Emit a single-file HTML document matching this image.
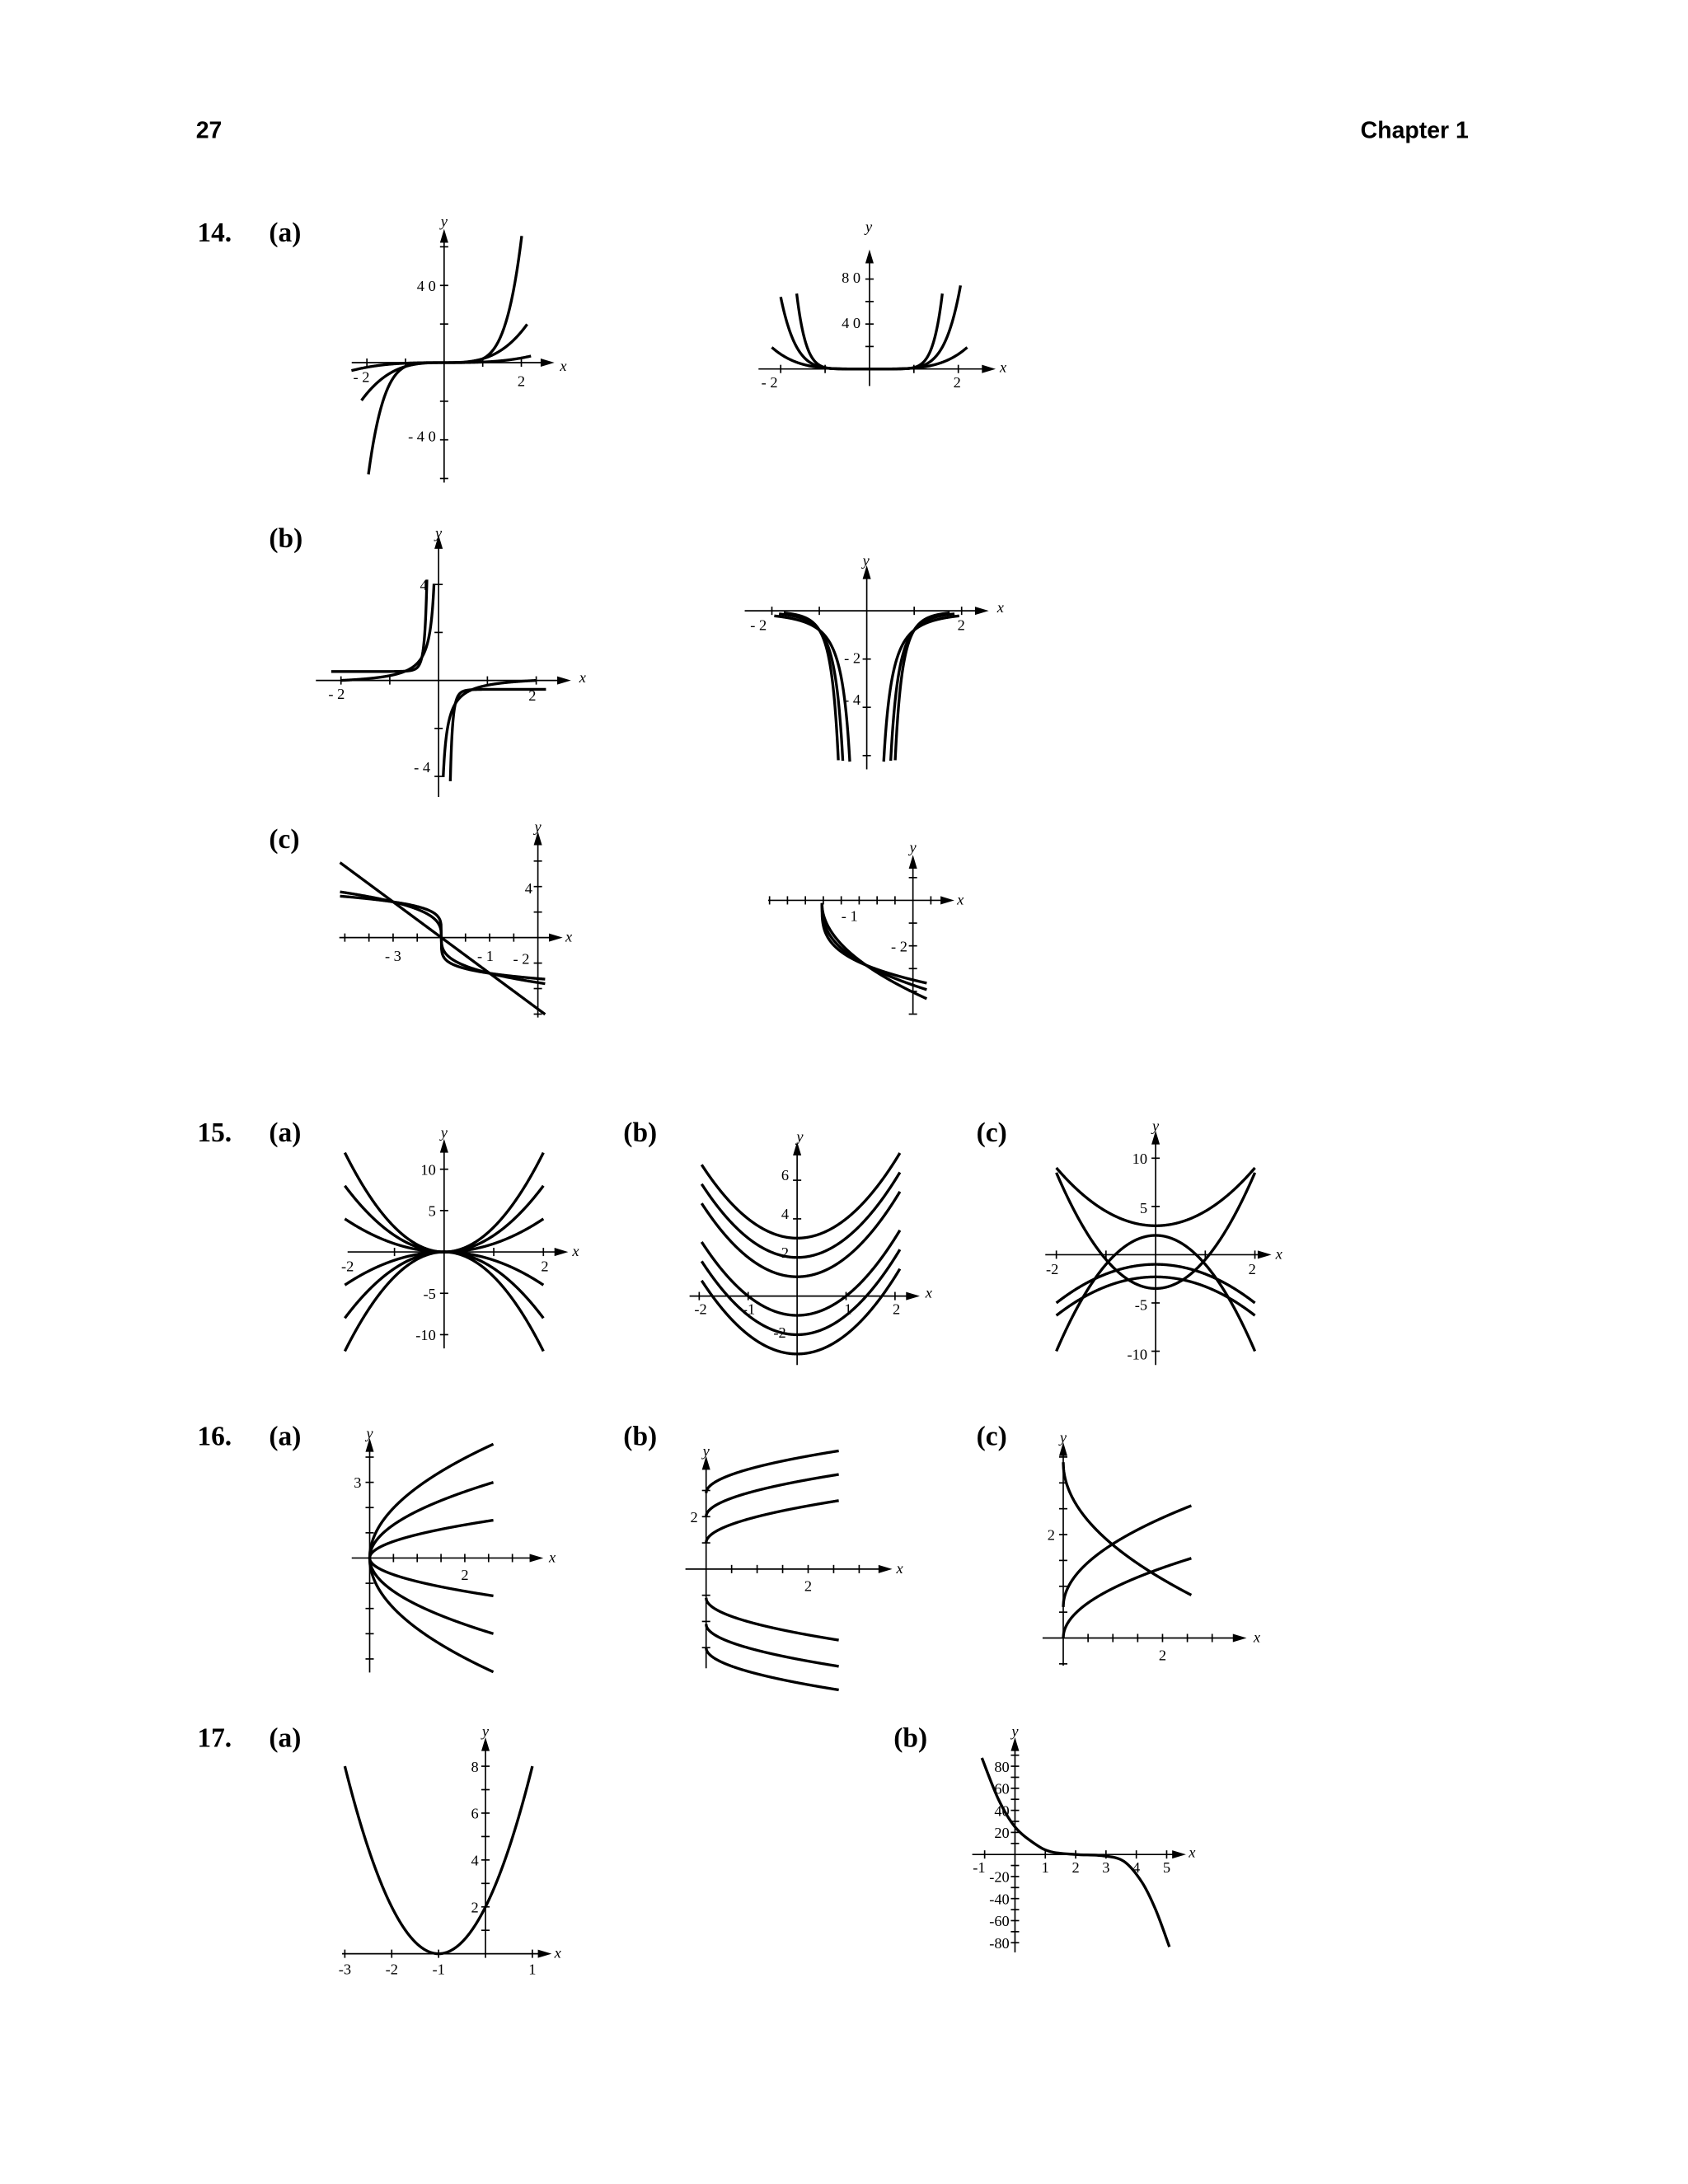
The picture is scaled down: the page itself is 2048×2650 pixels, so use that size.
<!DOCTYPE html>
<html><head><meta charset="utf-8"><style>
html,body{margin:0;padding:0;background:#fff}
svg{display:block}
.t{font-family:"Liberation Serif",serif;font-size:11px;fill:#000}
.i{font-style:italic}
.n{font-family:"Liberation Serif",serif;font-weight:bold;font-size:20px;fill:#000}
.h{font-family:"Liberation Sans",sans-serif;font-weight:bold;font-size:17px;fill:#000}
</style></head><body>
<svg id="s" xmlns="http://www.w3.org/2000/svg" width="2048" height="2650" viewBox="0 0 1224 1584">
<rect width="1224" height="1584" fill="#fff"/>
<text class="h" x="142" y="100">27</text>
<text class="h" x="1065" y="100" text-anchor="end">Chapter 1</text>
<text class="n" x="143" y="175">14.</text><text class="n" x="195" y="175">(a)</text>
<text class="n" x="195" y="397">(b)</text><text class="n" x="195" y="615">(c)</text>
<text class="n" x="143" y="828">15.</text><text class="n" x="195" y="828">(a)</text>
<text class="n" x="452" y="828">(b)</text><text class="n" x="708" y="828">(c)</text>
<text class="n" x="143" y="1048">16.</text><text class="n" x="195" y="1048">(a)</text>
<text class="n" x="452" y="1048">(b)</text><text class="n" x="708" y="1048">(c)</text>
<text class="n" x="143" y="1267">17.</text><text class="n" x="195" y="1267">(a)</text>
<text class="n" x="648" y="1267">(b)</text>
<g class="t">
<text class="t i" x="322" y="164" text-anchor="middle">y</text>
<text class="t" x="316" y="211" text-anchor="end">4 0</text>
<text class="t" x="316" y="320" text-anchor="end">- 4 0</text>
<text class="t" x="262" y="277" text-anchor="middle">- 2</text>
<text class="t" x="378" y="280" text-anchor="middle">2</text>
<text class="t i" x="406" y="269">x</text>
<text class="t i" x="630" y="168" text-anchor="middle">y</text>
<text class="t" x="624" y="205" text-anchor="end">8 0</text>
<text class="t" x="624" y="238" text-anchor="end">4 0</text>
<text class="t" x="558" y="281" text-anchor="middle">- 2</text>
<text class="t" x="694" y="281" text-anchor="middle">2</text>
<text class="t i" x="725" y="270">x</text>
<text class="t i" x="318" y="390" text-anchor="middle">y</text>
<text class="t" x="310" y="428" text-anchor="end">4</text>
<text class="t" x="312" y="560" text-anchor="end">- 4</text>
<text class="t" x="244" y="507" text-anchor="middle">- 2</text>
<text class="t" x="386" y="508" text-anchor="middle">2</text>
<text class="t i" x="420" y="495">x</text>
<text class="t i" x="628" y="410" text-anchor="middle">y</text>
<text class="t" x="624" y="481" text-anchor="end">- 2</text>
<text class="t" x="624" y="511" text-anchor="end">- 4</text>
<text class="t" x="550" y="457" text-anchor="middle">- 2</text>
<text class="t" x="697" y="457" text-anchor="middle">2</text>
<text class="t i" x="723" y="444">x</text>
<text class="t i" x="390" y="603" text-anchor="middle">y</text>
<text class="t" x="386" y="648" text-anchor="end">4</text>
<text class="t" x="285" y="697" text-anchor="middle">- 3</text>
<text class="t" x="352" y="697" text-anchor="middle">- 1</text>
<text class="t" x="378" y="699" text-anchor="middle">- 2</text>
<text class="t i" x="410" y="683">x</text>
<text class="t i" x="662" y="618" text-anchor="middle">y</text>
<text class="t" x="616" y="668" text-anchor="middle">- 1</text>
<text class="t" x="658" y="690" text-anchor="end">- 2</text>
<text class="t i" x="694" y="656">x</text>
<text class="t i" x="322" y="825" text-anchor="middle">y</text>
<text class="t" x="316" y="852" text-anchor="end">10</text>
<text class="t" x="316" y="882" text-anchor="end">5</text>
<text class="t" x="316" y="942" text-anchor="end">-5</text>
<text class="t" x="316" y="972" text-anchor="end">-10</text>
<text class="t" x="252" y="922" text-anchor="middle">-2</text>
<text class="t" x="395" y="922" text-anchor="middle">2</text>
<text class="t i" x="415" y="911">x</text>
<text class="t i" x="580" y="828" text-anchor="middle">y</text>
<text class="t" x="572" y="856" text-anchor="end">6</text>
<text class="t" x="572" y="884" text-anchor="end">4</text>
<text class="t" x="572" y="912" text-anchor="end">2</text>
<text class="t" x="570" y="970" text-anchor="end">-2</text>
<text class="t" x="508" y="953" text-anchor="middle">-2</text>
<text class="t" x="543" y="953" text-anchor="middle">-1</text>
<text class="t" x="615" y="953" text-anchor="middle">1</text>
<text class="t" x="650" y="953" text-anchor="middle">2</text>
<text class="t i" x="671" y="941">x</text>
<text class="t i" x="838" y="820" text-anchor="middle">y</text>
<text class="t" x="832" y="844" text-anchor="end">10</text>
<text class="t" x="832" y="880" text-anchor="end">5</text>
<text class="t" x="832" y="950" text-anchor="end">-5</text>
<text class="t" x="832" y="986" text-anchor="end">-10</text>
<text class="t" x="763" y="924" text-anchor="middle">-2</text>
<text class="t" x="908" y="924" text-anchor="middle">2</text>
<text class="t i" x="925" y="913">x</text>
<text class="t i" x="268" y="1043" text-anchor="middle">y</text>
<text class="t" x="262" y="1079" text-anchor="end">3</text>
<text class="t" x="337" y="1146" text-anchor="middle">2</text>
<text class="t i" x="398" y="1133">x</text>
<text class="t i" x="512" y="1056" text-anchor="middle">y</text>
<text class="t" x="506" y="1104" text-anchor="end">2</text>
<text class="t" x="586" y="1154" text-anchor="middle">2</text>
<text class="t i" x="650" y="1141">x</text>
<text class="t i" x="771" y="1046" text-anchor="middle">y</text>
<text class="t" x="765" y="1117" text-anchor="end">2</text>
<text class="t" x="843" y="1204" text-anchor="middle">2</text>
<text class="t i" x="909" y="1191">x</text>
<text class="t i" x="352" y="1259" text-anchor="middle">y</text>
<text class="t" x="347" y="1285" text-anchor="end">8</text>
<text class="t" x="347" y="1319" text-anchor="end">6</text>
<text class="t" x="347" y="1353" text-anchor="end">4</text>
<text class="t" x="347" y="1387" text-anchor="end">2</text>
<text class="t" x="250" y="1432" text-anchor="middle">-3</text>
<text class="t" x="284" y="1432" text-anchor="middle">-2</text>
<text class="t" x="318" y="1432" text-anchor="middle">-1</text>
<text class="t" x="386" y="1432" text-anchor="middle">1</text>
<text class="t i" x="402" y="1420">x</text>
<text class="t i" x="736" y="1259" text-anchor="middle">y</text>
<text class="t" x="732" y="1285" text-anchor="end">80</text>
<text class="t" x="732" y="1301" text-anchor="end">60</text>
<text class="t" x="732" y="1317" text-anchor="end">40</text>
<text class="t" x="732" y="1333" text-anchor="end">20</text>
<text class="t" x="732" y="1365" text-anchor="end">-20</text>
<text class="t" x="732" y="1381" text-anchor="end">-40</text>
<text class="t" x="732" y="1397" text-anchor="end">-60</text>
<text class="t" x="732" y="1413" text-anchor="end">-80</text>
<text class="t" x="710" y="1358" text-anchor="middle">-1</text>
<text class="t" x="758" y="1358" text-anchor="middle">1</text>
<text class="t" x="780" y="1358" text-anchor="middle">2</text>
<text class="t" x="802" y="1358" text-anchor="middle">3</text>
<text class="t" x="824" y="1358" text-anchor="middle">4</text>
<text class="t" x="846" y="1358" text-anchor="middle">5</text>
<text class="t i" x="862" y="1347">x</text>
</g>
<g id="g" fill="none" stroke="#000"></g>
</svg>
<script>
var g=document.getElementById('g'),NS='http://www.w3.org/2000/svg';
function el(t,a){var e=document.createElementNS(NS,t);for(var k in a)e.setAttribute(k,a[k]);g.appendChild(e);return e;}
function ln(a,b,c,d){el('line',{x1:a,y1:b,x2:c,y2:d,'stroke-width':1});}
function ax(o){
 ln(o.x0,o.oy,o.x1,o.oy);ln(o.ox,o.y0,o.ox,o.y1);
 el('polygon',{points:(o.x1+2)+','+o.oy+' '+(o.x1-8)+','+(o.oy-3)+' '+(o.x1-8)+','+(o.oy+3),fill:'#000',stroke:'none'});
 el('polygon',{points:o.ox+','+(o.y1-2)+' '+(o.ox-3)+','+(o.y1+8)+' '+(o.ox+3)+','+(o.y1+8),fill:'#000',stroke:'none'});
 var x,y;
 for(x=o.ox+o.tx;x<o.x1-6;x+=o.tx)ln(x,o.oy-3,x,o.oy+3);
 for(x=o.ox-o.tx;x>=o.x0-0.5;x-=o.tx)ln(x,o.oy-3,x,o.oy+3);
 for(y=o.oy-o.ty;y>o.y1+6;y-=o.ty)ln(o.ox-3,y,o.ox+3,y);
 for(y=o.oy+o.ty;y<=o.y0+0.5;y+=o.ty)ln(o.ox-3,y,o.ox+3,y);
}
function pl(o,f,a,b,lo,hi){
 var d='',pen=false,n=400;
 for(var i=0;i<=n;i++){var x=a+(b-a)*i/n,y=f(x);
  if(!isFinite(y)||(lo!==undefined&&(y<lo||y>hi))){pen=false;continue;}
  var X=o.ox+x*o.sx,Y=o.oy-y*o.sy;d+=(pen?'L':'M')+X.toFixed(2)+' '+Y.toFixed(2);pen=true;}
 el('path',{d:d,'stroke-width':2});
}
function pp(pts){var d='M'+pts[0][0]+' '+pts[0][1];
 for(var i=0;i<pts.length-1;i++){var p0=pts[i-1]||pts[i],p1=pts[i],p2=pts[i+1],p3=pts[i+2]||p2;
 d+='C'+(p1[0]+(p2[0]-p0[0])/6)+' '+(p1[1]+(p2[1]-p0[1])/6)+' '+(p2[0]-(p3[0]-p1[0])/6)+' '+(p2[1]-(p3[1]-p1[1])/6)+' '+p2[0]+' '+p2[1];}
 el('path',{d:d,'stroke-width':2});}
var o;
// 14a L
o={ox:322,oy:263,sx:28,sy:1.4,x0:255,x1:400,y0:350,y1:168,tx:28,ty:28};ax(o);
pl(o,x=>0.3*x*x*x,-2.4,2.25);pl(o,x=>2*x*x*x,-2.14,2.15);pl(o,x=>2*Math.pow(x,5),-1.96,2.01);
// 14a R
o={ox:630.5,oy:267.6,sx:32.2,sy:0.816,x0:550,x1:720,y0:280,y1:183,tx:32.2,ty:16.3};ax(o);
pl(o,x=>0.82*Math.pow(x,4),-2.2,2.2);pl(o,x=>Math.pow(x,6),-2.0,2.05);pl(o,x=>1.28*Math.pow(x,8),-1.64,1.64);
// 14b L
o={ox:318,oy:493.5,sx:35.4,sy:17.4,x0:229,x1:412,y0:578,y1:390,tx:35.4,ty:34.8};ax(o);
pl(o,x=>0.4/(-x)-0.2,-2.0,-0.01,-5,4.2);pl(o,x=>-0.4/x+0.2,0.01,2.0,-4.2,5);
pl(o,x=>0.00229/Math.pow(-x,5.2)+0.37,-2.2,-0.01,-5,4.4);pl(o,x=>-0.00229/Math.pow(x,5.2)-0.37,0.01,2.2,-4.6,5);
// 14b R
o={ox:628.5,oy:443,sx:34.4,sy:17.5,x0:540,x1:715,y0:558,y1:412,tx:34.4,ty:35};ax(o);
[[2,-1.95],[3,-1.85],[4,-1.75]].forEach(function(c){var n=c[0];
 pl(o,x=>-0.8/Math.pow(Math.abs(x),n),c[1],-0.02,-6.3,1);
 pl(o,x=>-0.8/Math.pow(Math.abs(x),n),0.02,-c[1],-6.3,1);});
// 14c L
o={ox:390,oy:680,sx:35,sy:9.25,x0:246,x1:406,y0:738,y1:605,tx:17.5,ty:18.5};ax(o);
pl(o,x=>-2.8*(x+2),-4.1,0.15);
pl(o,x=>{var u=x+2;return -2.8*Math.sign(u)*Math.pow(Math.abs(u),1/3);},-4.1,0.15);
pl(o,x=>{var u=x+2;return -2.8*Math.sign(u)*Math.pow(Math.abs(u),1/5);},-4.1,0.15);
// 14c R
o={ox:662,oy:653,sx:1,sy:1,x0:557,x1:690,y0:735,y1:622,tx:13,ty:16.5};ax(o);
[2,2.6,3.4].forEach(function(n){pl(o,x=>{var u=x+66;return -45*Math.pow(u/32,1/n)-2;},-66,10);});
// 15a
o={ox:322,oy:908,sx:36,sy:6,x0:252,x1:410,y0:978,y1:828,tx:36,ty:30};ax(o);
[3,2,1,-1,-2,-3].forEach(function(k){pl(o,x=>k*x*x,-2,2);});
// 15b
o={ox:578,oy:940,sx:35.5,sy:14,x0:500,x1:665,y0:990,y1:830,tx:35.5,ty:28};ax(o);
[3,2,1,-1,-2,-3].forEach(function(c){pl(o,x=>x*x+c,-1.95,2.1);});
// 15c
o={ox:838,oy:910,sx:36,sy:7,x0:758,x1:920,y0:990,y1:822,tx:36,ty:35};ax(o);
pl(o,x=>1.5*x*x+3,-2,2);pl(o,x=>3*x*x-3.5,-2,2);pl(o,x=>-3*x*x+2,-2,2);pl(o,x=>-x*x-1,-2,2);pl(o,x=>-x*x-2.3,-2,2);
// 16a
o={ox:268,oy:1130,sx:34.5,sy:18.3,x0:255,x1:392,y0:1213,y1:1045,tx:17.25,ty:18.3};ax(o);
[2.8,1.86,0.93,-0.93,-1.86,-2.8].forEach(function(k){pl(o,x=>k*Math.sqrt(x),0,2.6);});
// 16b
o={ox:512,oy:1138,sx:37,sy:19,x0:497,x1:645,y0:1210,y1:1058,tx:18.5,ty:19};ax(o);
[2.9,2,1].forEach(function(c){pl(o,x=>c+Math.sqrt(x),0,2.6);pl(o,x=>-c-0.1-Math.sqrt(x),0,2.6);});
// 16c
o={ox:771,oy:1188,sx:36,sy:37.5,x0:756,x1:902,y0:1208,y1:1048,tx:18,ty:18.75};ax(o);
pl(o,x=>3.4-1.6*Math.sqrt(x),0,2.58);pl(o,x=>0.6+1.22*Math.sqrt(x),0,2.58);pl(o,x=>0.96*Math.sqrt(x),0,2.58);
// 17a
o={ox:352,oy:1417,sx:34,sy:17,x0:248,x1:398,y0:1420,y1:1262,tx:34,ty:17};ax(o);
pl(o,x=>2*(x+1)*(x+1),-3,1);
// 17b
o={ox:736,oy:1345,sx:22,sy:0.8,x0:705,x1:858,y0:1416,y1:1262,tx:22,ty:8};ax(o);
pp([[712,1275],[724,1305],[736,1325],[750,1337],[762,1343],[780,1345],[800,1346],[815,1350],[828,1365],[838,1385],[848,1412]]);
</script>
</body></html>
